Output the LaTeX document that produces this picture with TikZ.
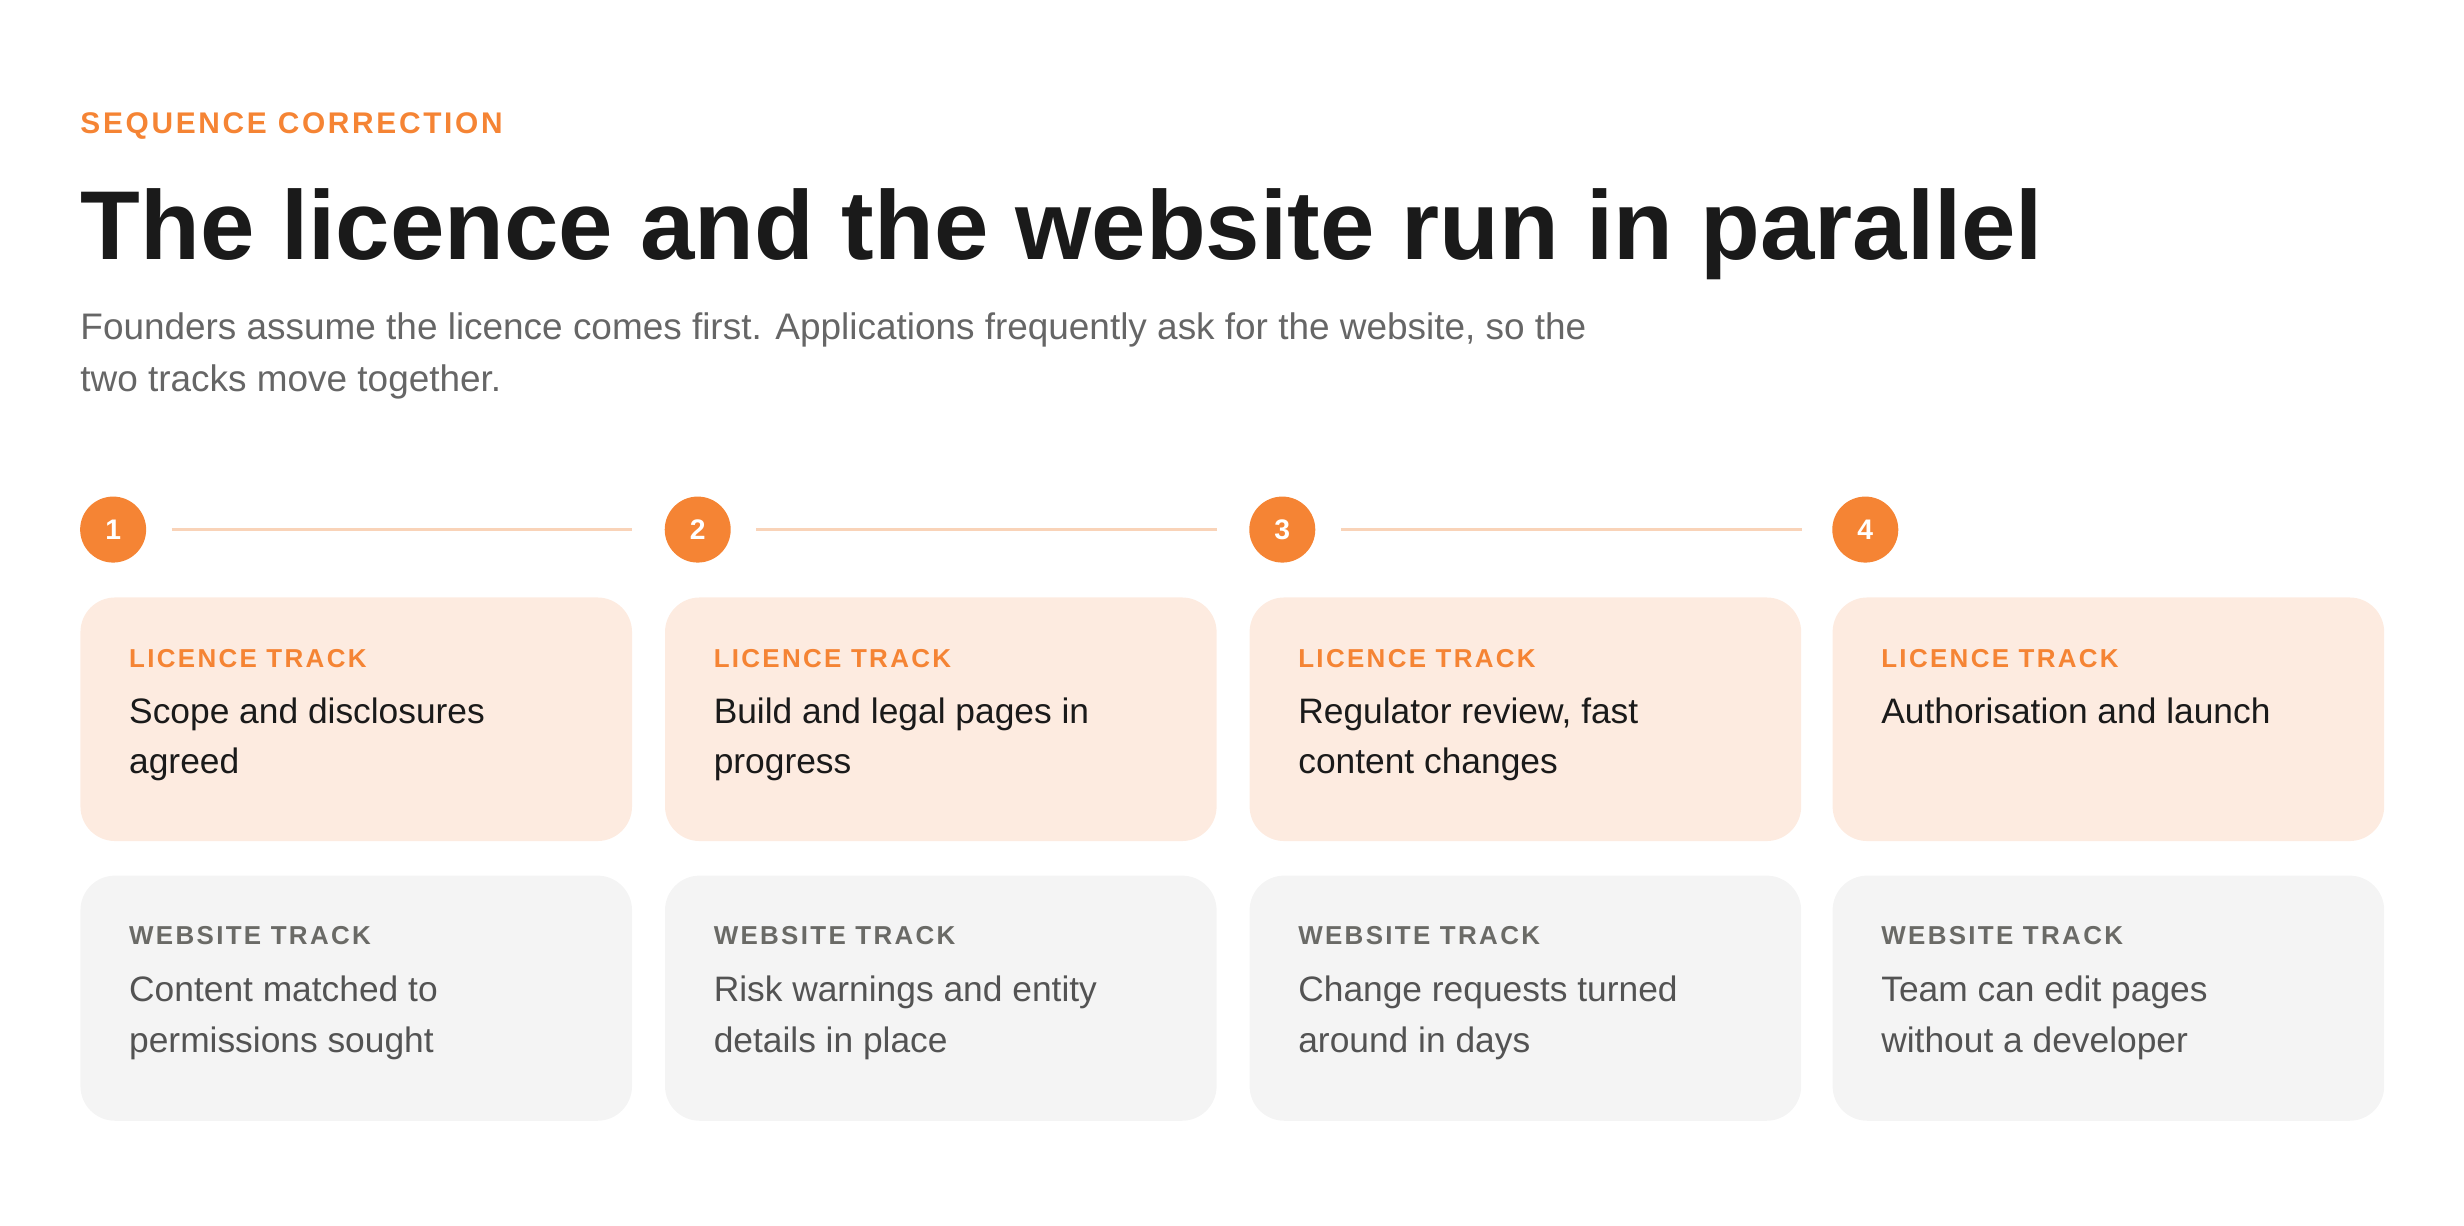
\documentclass[tikz,border=0pt]{standalone}
\usepackage{fontspec}
\setmainfont{Liberation Sans}
\newfontfamily\spaced[LetterSpace=9]{Liberation Sans}
\definecolor{org}{HTML}{F58434}
\definecolor{lic}{HTML}{FDEBE0}
\definecolor{web}{HTML}{F4F4F4}
\definecolor{dark}{HTML}{1A1A1A}
\definecolor{sub}{HTML}{666666}
\definecolor{lab}{HTML}{6A6A66}
\definecolor{lin}{HTML}{F9D3B8}
\begin{document}
\begin{tikzpicture}[x=1pt,y=-1pt,
  card/.style={rounded corners=22pt,minimum width=351pt,anchor=north west,draw=none},
  lbl/.style={anchor=base west,inner sep=0pt,font=\spaced\bfseries\fontsize{16.5}{16}\selectfont},
  txt/.style={anchor=north west,align=left,font=\fontsize{22.5}{32}\selectfont,inner sep=0pt},
  num/.style={circle,fill=org,minimum size=42pt,inner sep=0pt,text=white,font=\bfseries\fontsize{18}{18}\selectfont}]
\useasboundingbox (0,0) rectangle (1568,780);
\node[anchor=base west,text=org,font=\spaced\bfseries\fontsize{19}{19}\selectfont,inner sep=0pt] (kick) at (51,85) {SEQUENCE CORRECTION};
\node[anchor=base west,text=dark,inner sep=0pt] (title) at (51,165) {\resizebox{1249pt}{!}{\bfseries\fontsize{68}{68}\selectfont The licence and the website run in parallel}};
\node[anchor=north west,text=sub,align=left,inner sep=0pt,font=\fontsize{23.5}{33}\selectfont] (subt) at (51,199) {Founders assume the licence comes first. Applications frequently ask for the website, so the\\two tracks move together.};
\foreach \i/\x/\a/\b in {1/51/{Scope and disclosures\\agreed}/{Content matched to\\permissions sought},
 2/423/{Build and legal pages in\\progress}/{Risk warnings and entity\\details in place},
 3/795/{Regulator review, fast\\content changes}/{Change requests turned\\around in days},
 4/1166/{Authorisation and launch}/{Team can edit pages\\without a developer}}{
  \node[num] (n\i) at (\x+21,337) {\i};
  \node[card,fill=lic,minimum height=155pt] (l\i) at (\x,380) {};
  \node[card,fill=web,minimum height=156pt] (w\i) at (\x,557) {};
  \node[lbl,text=org] (lt\i) at (\x+31,425) {LICENCE TRACK};
  \node[txt,text=dark] (la\i) at (\x+31,444) {\a};
  \node[lbl,text=lab] (wt\i) at (\x+31,601) {WEBSITE TRACK};
  \node[txt,text=dark!75] (wa\i) at (\x+31,621) {\b};
}
\foreach \i/\j in {1/2,2/3,3/4}{
  \coordinate (e\i) at (l\i.north east |- n\i);
  \draw[lin,line width=2pt] ([xshift=16pt]n\i.east) -- (e\i);
}
\end{tikzpicture}
\end{document}
